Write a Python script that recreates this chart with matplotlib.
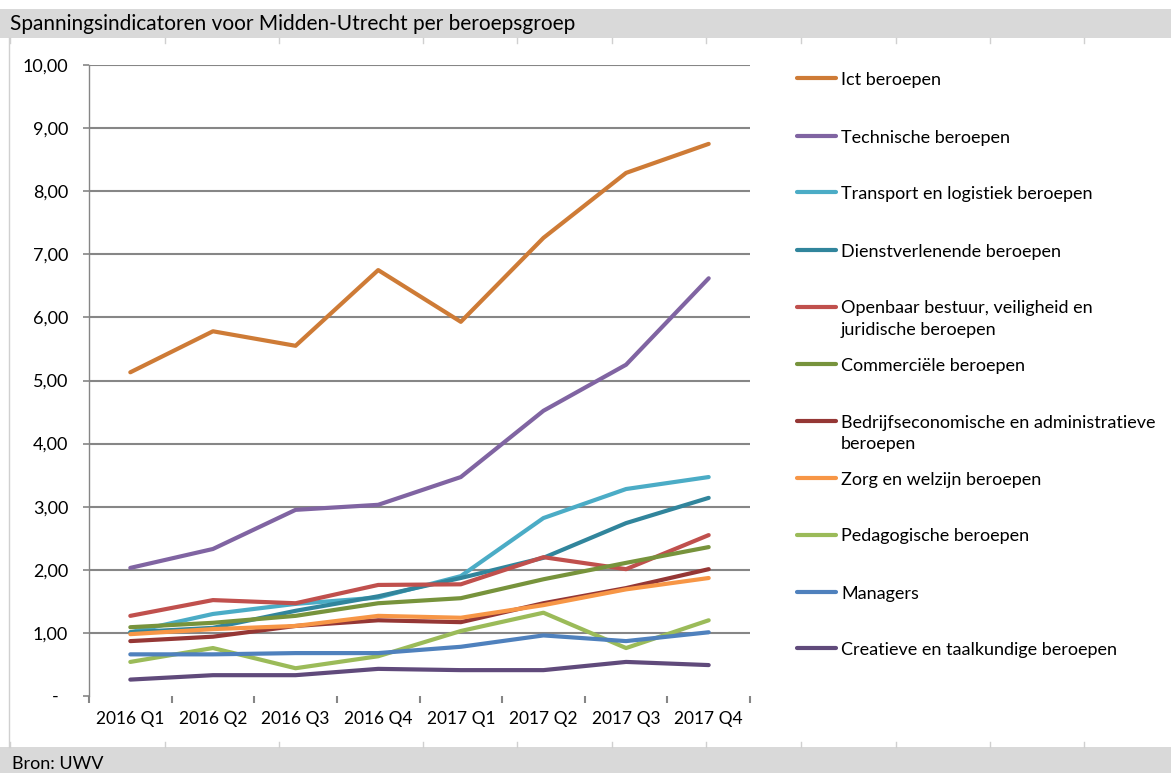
import matplotlib
matplotlib.use("Agg")
import matplotlib.pyplot as plt
from matplotlib.lines import Line2D
from matplotlib.patches import Rectangle

plt.rcParams['font.family'] = ['Lato', 'DejaVu Sans']

W, H = 1171, 773

quarters = ["2016 Q1", "2016 Q2", "2016 Q3", "2016 Q4",
            "2017 Q1", "2017 Q2", "2017 Q3", "2017 Q4"]

ict = [5.13, 5.78, 5.55, 6.75, 5.93, 7.26, 8.29, 8.75]
technische = [2.03, 2.33, 2.95, 3.03, 3.47, 4.52, 5.25, 6.62]
transport = [1.01, 1.30, 1.46, 1.56, 1.90, 2.82, 3.28, 3.47]
dienst = [1.01, 1.08, 1.35, 1.58, 1.87, 2.19, 2.74, 3.14]
openbaar = [1.27, 1.52, 1.47, 1.76, 1.77, 2.20, 2.01, 2.55]
commercieel = [1.09, 1.16, 1.27, 1.47, 1.55, 1.85, 2.11, 2.36]
bedrijf = [0.87, 0.94, 1.11, 1.20, 1.17, 1.47, 1.71, 2.01]
zorg = [0.98, 1.06, 1.11, 1.27, 1.24, 1.44, 1.69, 1.87]
pedagogisch = [0.54, 0.76, 0.44, 0.63, 1.03, 1.32, 0.76, 1.20]
managers = [0.66, 0.66, 0.68, 0.68, 0.78, 0.96, 0.87, 1.01]
creatief = [0.26, 0.33, 0.33, 0.43, 0.41, 0.41, 0.54, 0.49]

labels = ["Ict beroepen",
          "Technische beroepen",
          "Transport en logistiek beroepen",
          "Dienstverlenende beroepen",
          "Openbaar bestuur, veiligheid en\njuridische beroepen",
          "Commerciële beroepen",
          "Bedrijfseconomische en administratieve\nberoepen",
          "Zorg en welzijn beroepen",
          "Pedagogische beroepen",
          "Managers",
          "Creatieve en taalkundige beroepen"]

series = [ict, technische, transport, dienst, openbaar, commercieel,
          bedrijf, zorg, pedagogisch, managers, creatief]

colors = ["#CE7B36", "#8064A2", "#4BACC6", "#31859C", "#C0504D", "#77933C",
          "#953735", "#F79646", "#9BBB59", "#4F81BD", "#604A7B"]

yticks = [0, 1, 2, 3, 4, 5, 6, 7, 8, 9, 10]
ytick_labels = ["-  ", "1,00", "2,00", "3,00", "4,00", "5,00", "6,00",
                "7,00", "8,00", "9,00", "10,00"]

title = "Spanningsindicatoren voor Midden-Utrecht per beroepsgroep"
source = "Bron: UWV"

fig = plt.figure(figsize=(W / 100, H / 100), dpi=100)
fig.patch.set_facecolor("white")


def fx(px):
    return px / W


def fy(py):
    return 1 - py / H


# header and footer bands
fig.add_artist(Rectangle((0, fy(38)), 1, fy(9) - fy(38), transform=fig.transFigure,
                         facecolor="#D9D9D9", edgecolor="none", zorder=0))
fig.add_artist(Rectangle((0, 0), 1, fy(747), transform=fig.transFigure,
                         facecolor="#D9D9D9", edgecolor="none", zorder=0))
# left border of white area
fig.add_artist(Line2D([fx(8.5), fx(8.5)], [fy(38), fy(747)], transform=fig.transFigure,
                      color="#D0D0D0", lw=1.0))
# spreadsheet cell marks
for cx in [10, 165, 279, 423, 517, 612, 706, 801, 896, 990, 1084]:
    fig.add_artist(Line2D([fx(cx), fx(cx)], [fy(38), fy(43)], transform=fig.transFigure,
                          color="#D0D0D0", lw=1.0))
    fig.add_artist(Line2D([fx(cx), fx(cx)], [fy(742), fy(747)], transform=fig.transFigure,
                          color="#D0D0D0", lw=1.0))

fig.text(fx(10), fy(24), title, fontsize=15, va="center", ha="left", color="#000000")
fig.text(fx(12), fy(769), source, fontsize=13, va="baseline", ha="left", color="#000000")

ax = fig.add_axes([fx(89), fy(696), fx(750) - fx(89), fy(65) - fy(696)])
ax.set_facecolor("none")
x = list(range(len(quarters)))
for vals, c in zip(series, colors):
    ax.plot(x, vals, color=c, lw=3.0, solid_capstyle="round", solid_joinstyle="round",
            zorder=3)

ax.set_xlim(-0.5, len(quarters) - 0.5)
ax.set_ylim(0, 10)
ax.set_yticks(yticks)
ax.set_yticklabels(ytick_labels)
ax.set_xticks(x)
ax.set_xticklabels(quarters)
ax.set_xticks([i + 0.5 for i in range(-1, len(quarters))], minor=True)
ax.tick_params(axis="x", which="major", length=0, pad=11, labelsize=12.5)
ax.tick_params(axis="x", which="minor", length=5, width=1.5, color="#868686", direction="out")
ax.tick_params(axis="y", length=4, width=1.2, color="#868686", pad=11, labelsize=13)
for sp in ["top", "right", "bottom"]:
    ax.spines[sp].set_visible(False)
ax.spines["left"].set_color("#868686")
ax.spines["left"].set_linewidth(1.0)
for yv in yticks[1:]:
    ax.axhline(yv, color="#868686", lw=1.5, zorder=1)

# legend
legend_y = [78, 136, 192, 250, 307, 364, 421, 478, 535, 592, 648]
for lab, c, ly in zip(labels, colors, legend_y):
    fig.add_artist(Line2D([fx(797), fx(836)], [fy(ly), fy(ly)], transform=fig.transFigure,
                          color=c, lw=3.0, solid_capstyle="round"))
    for i, line in enumerate(lab.split("\n")):
        fig.text(fx(841), fy(ly + 22 * i), line, fontsize=13, va="center_baseline",
                 ha="left", color="#000000")

fig.savefig("out.png", dpi=100)
